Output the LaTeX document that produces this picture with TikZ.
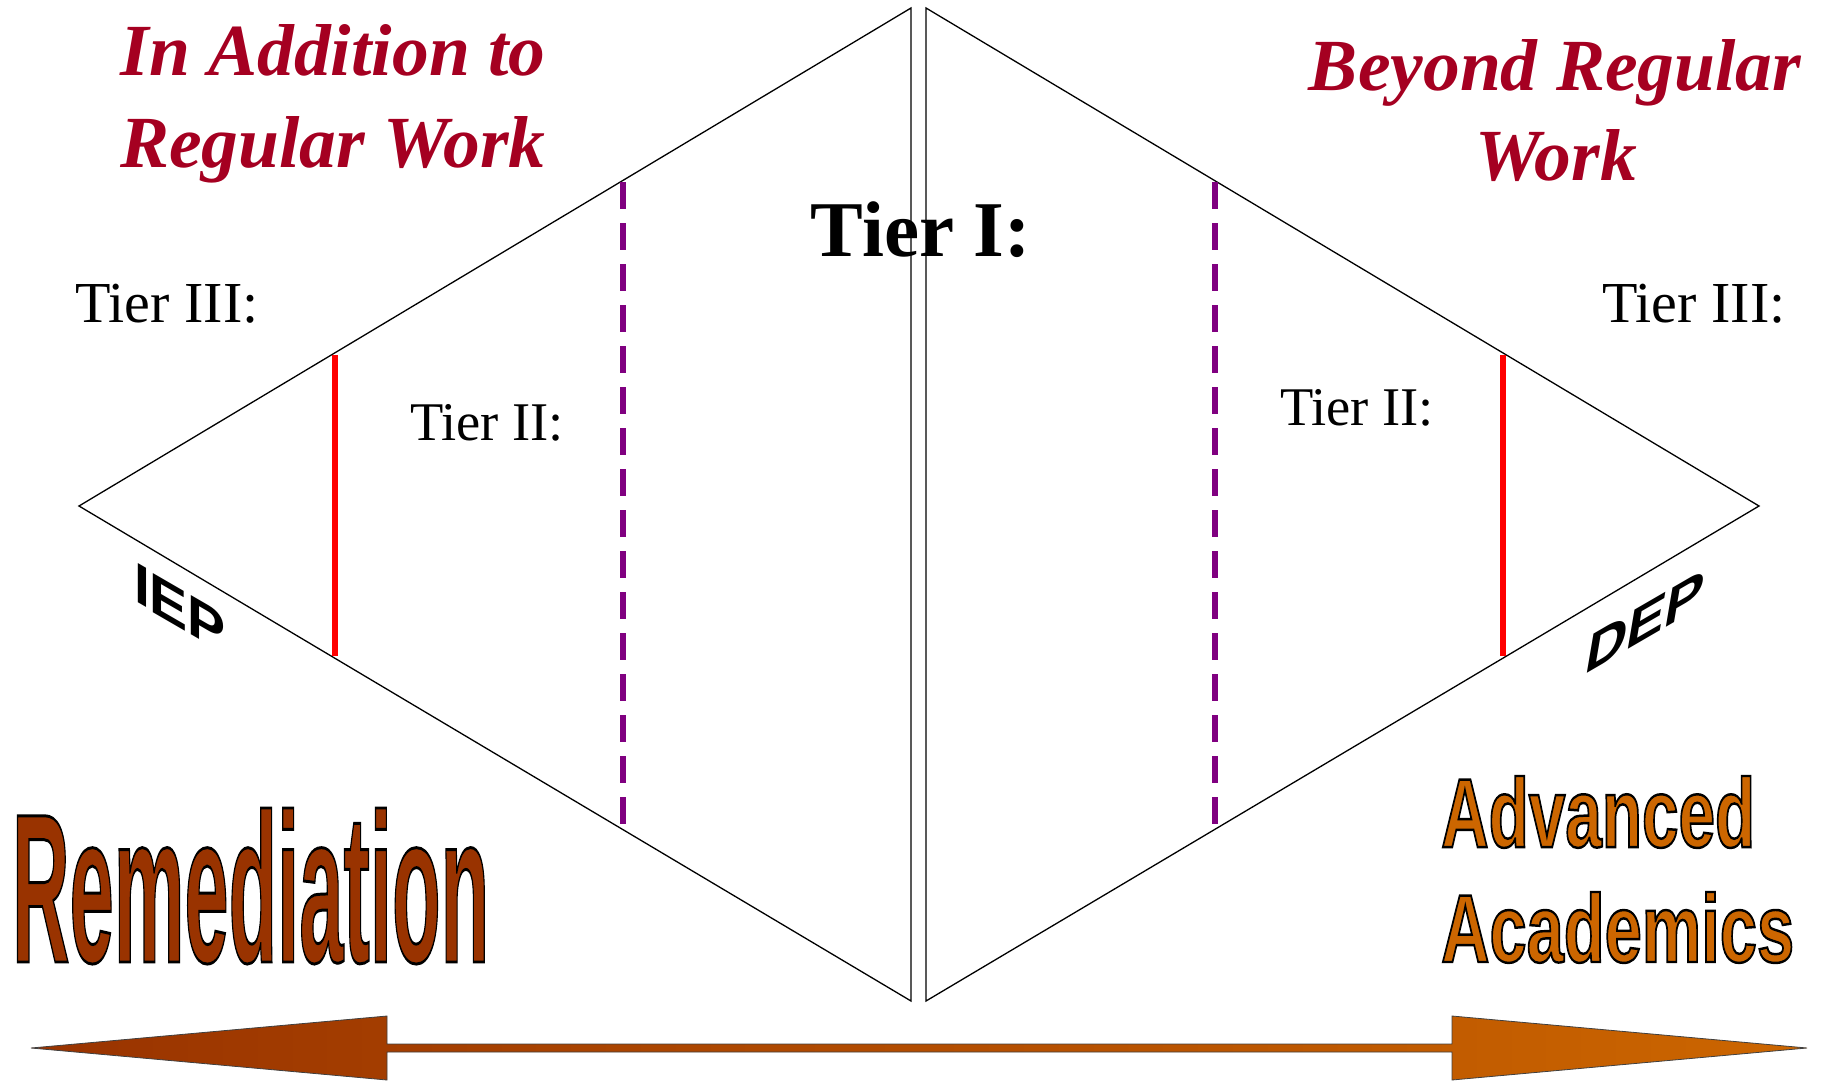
\documentclass[tikz,border=0pt]{standalone}
\usepackage{fontspec}
\setmainfont{Liberation Serif}
\newfontfamily\sansf{Liberation Sans}
\definecolor{titlered}{HTML}{A50021}
\definecolor{remed}{HTML}{993300}
\definecolor{advc}{HTML}{CC6600}
\definecolor{tierpurple}{HTML}{800080}
\newcommand\outlinedtext[2]{\special{pdf:literal direct 2 Tr 0 G #1 w}#2\special{pdf:literal direct 0 Tr}}
\tikzset{
  edge/.style={line width=1.3pt, black, line join=miter},
  redline/.style={line width=6.5pt, red},
  purpledash/.style={line width=6.5pt, tierpurple, dash pattern=on 27pt off 14pt},
  titletext/.style={inner sep=0pt, anchor=base, text=titlered, font=\fontsize{73.5}{88}\selectfont\bfseries\itshape},
  tierthree/.style={inner sep=0pt, anchor=base, font=\fontsize{58}{70}\selectfont},
  tiertwo/.style={inner sep=0pt, anchor=base, font=\fontsize{54.5}{66}\selectfont},
  tierone/.style={inner sep=0pt, anchor=base, font=\fontsize{79}{95}\selectfont\bfseries},
  slanttext/.style={inner sep=0pt, anchor=center, transform shape, font=\sansf\bfseries\fontsize{57}{68}\selectfont},
  bigword/.style={inner sep=0pt, anchor=base west},
  arrowbody/.style={draw=black!75, line width=0.8pt, left color=remed, right color=advc}
}
\begin{document}
\begin{tikzpicture}[x=1pt,y=-1pt]
\useasboundingbox (0,0) rectangle (1823,1081);
% left triangle
\coordinate (LA) at (79,506);
\coordinate (LT) at (911,8);
\coordinate (LB) at (911,1001);
\draw[edge] (LA) -- (LT) -- (LB) -- cycle;
% right triangle
\coordinate (RT) at (926,8);
\coordinate (RA) at (1759,506);
\coordinate (RB) at (926,1001);
\draw[edge] (RT) -- (RA) -- (RB) -- cycle;
% tier boundaries
\coordinate (LRt) at (335,355);
\coordinate (LRb) at (335,656);
\draw[redline] (LRt) -- (LRb);
\coordinate (LPt) at (623,182);
\coordinate (LPb) at (623,829);
\draw[purpledash] (LPt) -- (LPb);
\coordinate (RPt) at (1215,182);
\coordinate (RPb) at (1215,829);
\draw[purpledash] (RPt) -- (RPb);
\coordinate (RRt) at (1503,355);
\coordinate (RRb) at (1503,656);
\draw[redline] (RRt) -- (RRb);
% titles
\node[titletext] (t1a) at (333,75) {In Addition to};
\node[titletext] (t1b) at (333,167) {Regular Work};
\node[titletext] (t2a) at (1555,90) {Beyond Regular};
\node[titletext] (t2b) at (1556,180) {Work};
% tiers
\node[tierone] (tierI) at (921,256) {Tier I:};
\node[tierthree] (tierIIIl) at (167,322) {Tier III:};
\node[tierthree] (tierIIIr) at (1694,322) {Tier III:};
\node[tiertwo] (tierIIl) at (487,440) {Tier II:};
\node[tiertwo] (tierIIr) at (1357,425) {Tier II:};
% slanted labels
\begin{scope}[shift={(180,608)}, cm={1,-0.58,0,1,(0,0)}]
  \node[slanttext] (iep) at (0,0) {IEP};
\end{scope}
\begin{scope}[shift={(1645,622)}, cm={1,0.58,0.17,1,(0,0)}]
  \node[slanttext] (dep) at (0,0) {DEP};
\end{scope}
% big words
\node[bigword] (remed) at (12,962) {\resizebox{477pt}{154pt}{\sansf\bfseries\fontsize{215}{230}\selectfont\color{remed}\outlinedtext{3}{Remediation}}};
\node[bigword] (adv1) at (1441,847) {\resizebox{314pt}{71pt}{\sansf\bfseries\fontsize{99}{110}\selectfont\color{advc}\outlinedtext{2.5}{Advanced}}};
\node[bigword] (adv2) at (1441,962) {\resizebox{353pt}{70pt}{\sansf\bfseries\fontsize{99}{110}\selectfont\color{advc}\outlinedtext{2.5}{Academics}}};
% double arrow
\draw[arrowbody] (31,1048) -- (387,1016) -- (387,1044) -- (1452,1044) -- (1452,1016) -- (1807,1048) -- (1452,1080) -- (1452,1052) -- (387,1052) -- (387,1080) -- cycle;
\end{tikzpicture}
\end{document}
